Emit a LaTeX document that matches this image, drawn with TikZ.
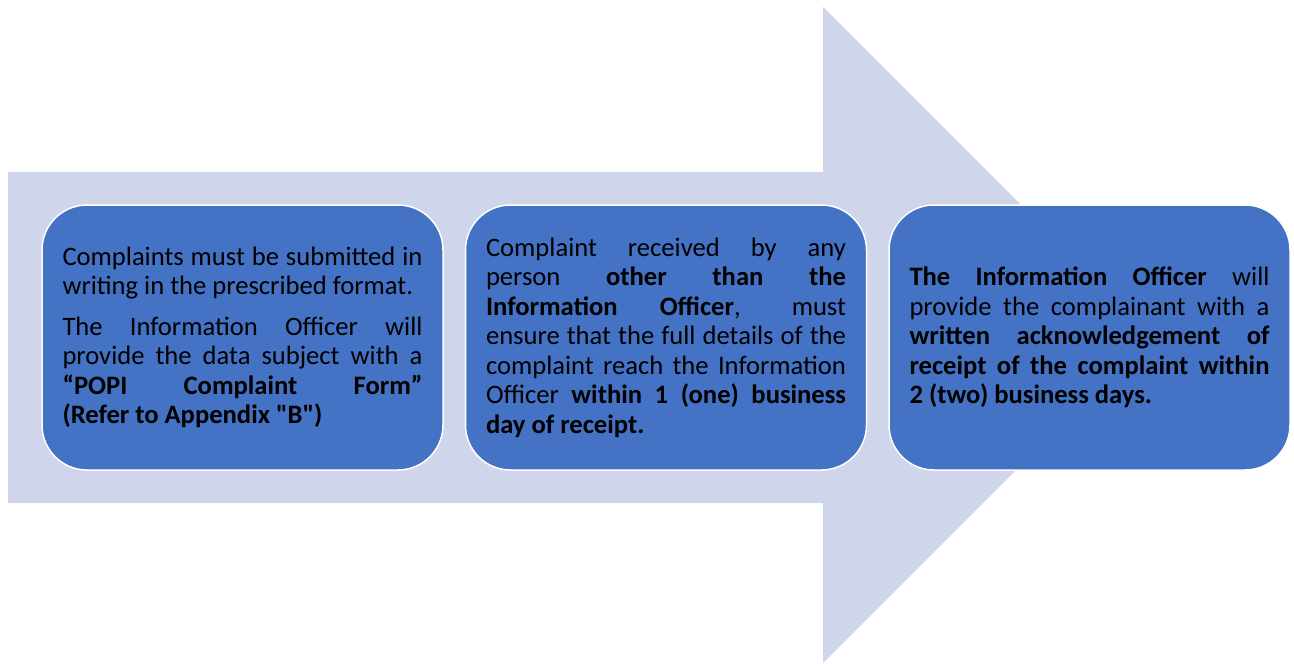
\documentclass[tikz,border=0pt]{standalone}
\usepackage{fontspec}
\setmainfont{Carlito}[Ligatures=TeXOff]
\definecolor{arrowfill}{HTML}{CFD5EA}
\definecolor{boxfill}{HTML}{4472C4}
% one justified line of a box
\newcommand{\jline}[1]{\makebox[360pt][s]{#1}\\}

\begin{document}
\begin{tikzpicture}[x=1pt,y=-1pt,
    stagebox/.style={draw=white, line width=1.5pt, fill=boxfill, rounded corners=45pt,
        minimum width=401pt, minimum height=265pt, align=left,
        font=\fontsize{26.6}{29.5}\selectfont}]
    \useasboundingbox (0,0) rectangle (1294,664);
    % the big arrow behind the boxes
    \fill[arrowfill] (8,172) -- (823,172) -- (823,7) -- (1151,335) -- (823,663)
        -- (823,503) -- (8,503) -- cycle;
    \node[stagebox] (submit) at (242.5,337.5) {%
        \jline{Complaints must be submitted in}
        writing in the prescribed format.\\[11pt]
        \jline{The Information Officer will}
        \jline{provide the data subject with a}
        \jline{\textbf{“POPI Complaint Form”}}
        \textbf{(Refer to Appendix "B")}};
    \node[stagebox] (forward) at (666,337.5) {%
        \jline{Complaint received by any}
        \jline{person \textbf{other than the}}
        \jline{\textbf{Information Officer}, must}
        \jline{ensure that the full details of the}
        \jline{complaint reach the Information}
        \jline{Officer \textbf{within 1 (one) business}}
        \textbf{day of receipt.}};
    \node[stagebox] (acknowledge) at (1089.5,337.5) {%
        \jline{\textbf{The Information Officer} will}
        \jline{provide the complainant with a}
        \jline{\textbf{written acknowledgement of}}
        \jline{\textbf{receipt of the complaint within}}
        \textbf{2 (two) business days.}};
\end{tikzpicture}
\end{document}
